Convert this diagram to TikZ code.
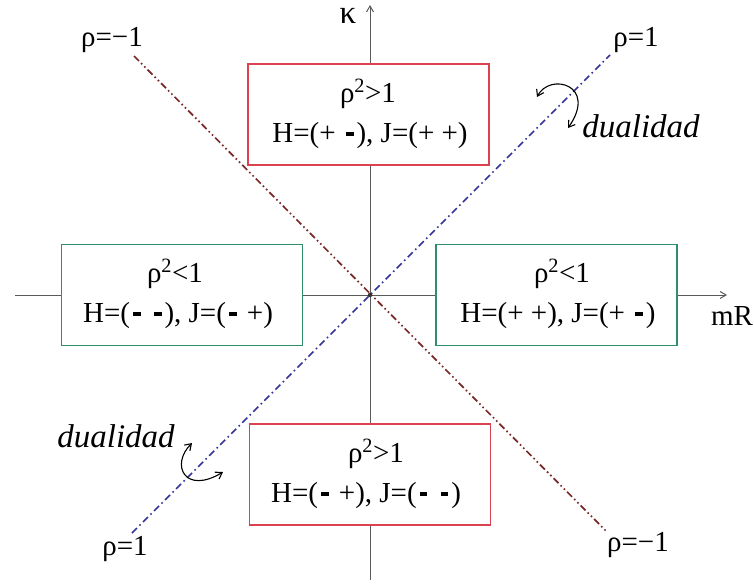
\documentclass[tikz,border=0pt]{standalone}
\usepackage{fontspec}
\setmainfont{Liberation Serif}
\usetikzlibrary{arrows.meta}
\definecolor{boxred}{HTML}{D9424E}
\definecolor{boxgreen}{HTML}{2E8F68}
\definecolor{lineblue}{HTML}{34349A}
\definecolor{linered}{HTML}{7A2828}
\definecolor{axisgray}{HTML}{5A5A5A}
\newcommand{\md}{\kern0.1em\rule[0.2em]{0.27em}{0.13em}\kern0.1em}
\tikzset{
  every node/.style={font=\fontsize{29}{34}\selectfont, inner sep=0pt},
  axisline/.style={draw=axisgray, line width=1pt, -{Straight Barb[length=6pt,width=7pt]}},
  blueline/.style={draw=lineblue, line width=1.7pt, dash pattern=on 7pt off 3.5pt on 1.6pt off 3.5pt},
  redline/.style={draw=linered, line width=1.7pt, dash pattern=on 7pt off 3pt on 1.6pt off 3pt on 1.6pt off 3pt},
  rbox/.style={draw=boxred, fill=white, line width=1.3pt, minimum width=241pt, minimum height=101pt},
  gbox/.style={draw=boxgreen, fill=white, line width=1.3pt, minimum width=241pt, minimum height=101pt},
  txt/.style={anchor=base},
  dual/.style={font=\fontsize{33}{38}\selectfont\itshape},
  duarrow/.style={draw=black, line width=1.1pt, {Straight Barb[length=6pt,width=8pt]}-{Straight Barb[length=6pt,width=8pt]}}
}
\begin{document}
\begin{tikzpicture}[x=1pt,y=-1pt]
\useasboundingbox (0,0) rectangle (754,586);
% axes
\coordinate (vb) at (370,580);
\coordinate (vt) at (370,5);
\coordinate (hl) at (15,295);
\coordinate (hr) at (727,295);
\draw[axisline] (vb) -- (vt);
\draw[axisline] (hl) -- (hr);
% diagonal lines
\coordinate (b1) at (132,533);
\coordinate (b2) at (610,55);
\coordinate (r1) at (134,56);
\coordinate (r2) at (607,532);
\draw[redline] (r1) -- (r2);
\draw[blueline] (b1) -- (b2);
\fill[black!80] (370,295) circle (2.2pt);
% boxes
\node[rbox] (top) at (368.5,114.5) {};
\node[rbox] (bot) at (370,474.5) {};
\node[gbox] (lef) at (182,295) {};
\node[gbox] (rig) at (556.5,295) {};
% box texts
\node[txt] (top1) at (368,102) {ρ\textsuperscript{2}>1};
\node[txt] (top2) at (370,142) {H=(+ \md), J=(+ +)};
\node[txt] (bot1) at (376,462) {ρ\textsuperscript{2}>1};
\node[txt] (bot2) at (366,502) {H=(\md\ +), J=(\md\ \md)};
\node[txt] (lef1) at (175,282) {ρ\textsuperscript{2}<1};
\node[txt] (lef2) at (178,322) {H=(\md\ \md), J=(\md\ +)};
\node[txt] (rig1) at (562,282) {ρ\textsuperscript{2}<1};
\node[txt] (rig2) at (558,322) {H=(+ +), J=(+ \md)};
% axis labels
\node[anchor=base, font=\fontsize{33}{36}\selectfont] (kap) at (348,24) {κ};
\node (mr) at (732,316) {mR};
% rho labels
\node (lrm) at (112,40) {ρ=−1};
\node (lrp) at (636,40) {ρ=1};
\node (lbp) at (125,549) {ρ=1};
\node (lbm) at (638,545) {ρ=−1};
% dualidad
\node[dual, anchor=base] (du1) at (641,137) {dualidad};
\node[dual, anchor=base] (du2) at (116,447) {dualidad};
\coordinate (a1) at (537,97);
\coordinate (a2) at (568,128);
\draw[duarrow] (a1) .. controls (550,72) and (598,85) .. (a2);
\coordinate (c1) at (192,443);
\coordinate (c2) at (223,472);
\draw[duarrow] (c1) .. controls (170,465) and (185,495) .. (c2);
\end{tikzpicture}
\end{document}
